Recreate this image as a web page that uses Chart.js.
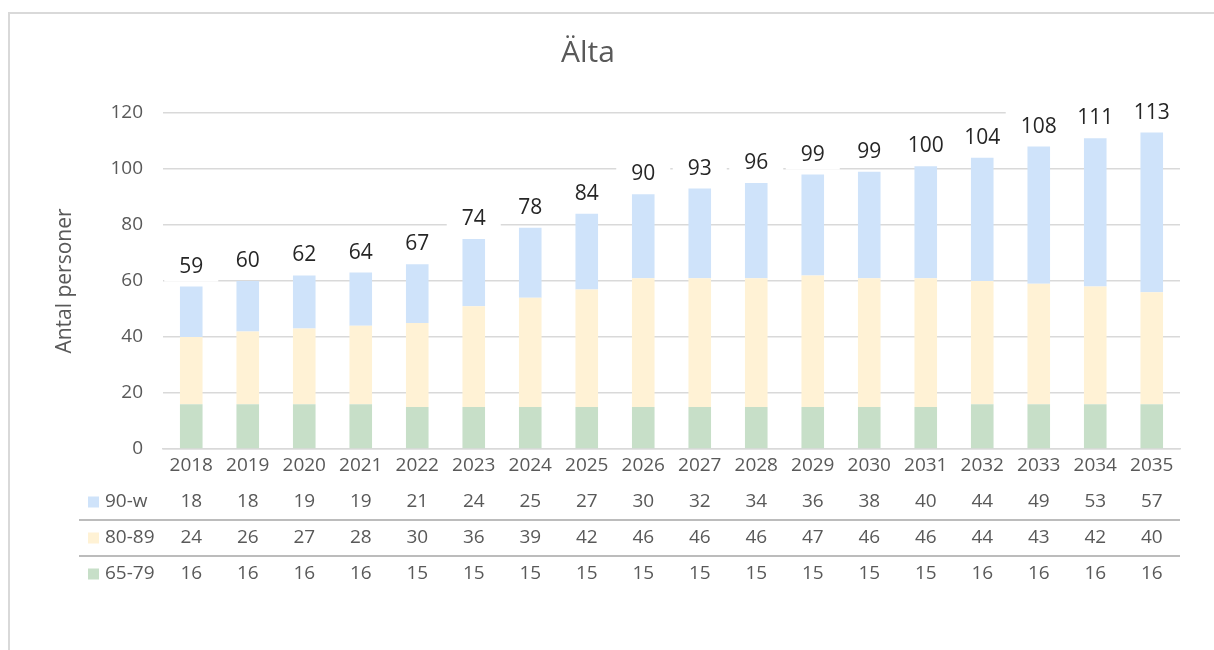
<!DOCTYPE html>
<html>
<head>
<meta charset="utf-8">
<script src="https://cdn.jsdelivr.net/npm/chart.js@4/dist/chart.umd.min.js"></script>
<style>
  html, body { margin: 0; padding: 0; background: #ffffff; }
  canvas { display: block; }
</style>
</head>
<body>
<canvas id="c" width="1214" height="650"></canvas>
<script>
// ---- Data ----
const chartTitle = 'Älta';
const yAxisTitle = 'Antal personer';
const years = ['2018','2019','2020','2021','2022','2023','2024','2025','2026','2027','2028','2029','2030','2031','2032','2033','2034','2035'];
const seriesNames = ['90-w', '80-89', '65-79'];
const s90 = [18,18,19,19,21,24,25,27,30,32,34,36,38,40,44,49,53,57];
const s80 = [24,26,27,28,30,36,39,42,46,46,46,47,46,46,44,43,42,40];
const s65 = [16,16,16,16,15,15,15,15,15,15,15,15,15,15,16,16,16,16];
const totals = [59,60,62,64,67,74,78,84,90,93,96,99,99,100,104,108,111,113];
const yTicks = [0,20,40,60,80,100,120];

// ---- Styles ----
const FONT = "'Open Sans', sans-serif";
const GRAY = '#595959';
const colors = { '90-w': '#cfe3fa', '80-89': '#fff2d5', '65-79': '#c7dfc8' };

Chart.defaults.font.family = FONT;
Chart.defaults.color = GRAY;

const framePlugin = {
  id: 'frame',
  beforeDraw(chart) {
    const ctx = chart.ctx;
    ctx.save();
    ctx.fillStyle = '#ffffff';
    ctx.fillRect(0, 0, chart.width, chart.height);
    ctx.strokeStyle = '#d9d9d9';
    ctx.lineWidth = 2;
    ctx.beginPath();
    ctx.moveTo(9, chart.height);
    ctx.lineTo(9, 13);
    ctx.lineTo(chart.width, 13);
    ctx.stroke();
    // title
    ctx.fillStyle = GRAY;
    ctx.font = "30px " + FONT;
    ctx.textAlign = 'center';
    ctx.textBaseline = 'alphabetic';
    ctx.fillText(chartTitle, 588, 62);
    ctx.restore();
  }
};

const totalsPlugin = {
  id: 'totals',
  afterDatasetsDraw(chart) {
    const ctx = chart.ctx;
    const n = chart.data.datasets.length;
    const topMeta = chart.getDatasetMeta(n - 1);
    ctx.save();
    ctx.font = "21px " + FONT;
    const boxes = [];
    topMeta.data.forEach((bar, i) => {
      const txt = String(totals[i]);
      const w = ctx.measureText(txt).width;
      const top = bar.y;
      boxes.push({ x: bar.x, top, txt, w });
    });
    ctx.fillStyle = '#ffffff';
    boxes.forEach(b => {
      ctx.fillRect(b.x - b.w / 2 - 15, b.top - 38, b.w + 30, 33);
    });
    ctx.fillStyle = '#262626';
    ctx.textAlign = 'center';
    ctx.textBaseline = 'alphabetic';
    boxes.forEach(b => {
      ctx.fillText(b.txt, b.x, b.top - 14);
    });
    ctx.restore();
  }
};

const tablePlugin = {
  id: 'dataTable',
  afterDraw(chart) {
    const ctx = chart.ctx;
    const xs = chart.scales.x;
    const rowY = [502, 538, 574];
    const sepY = [520, 556];
    const rows = [
      { name: seriesNames[0], vals: s90 },
      { name: seriesNames[1], vals: s80 },
      { name: seriesNames[2], vals: s65 }
    ];
    ctx.save();
    ctx.strokeStyle = '#a6a6a6';
    ctx.lineWidth = 1.5;
    sepY.forEach(y => {
      ctx.beginPath();
      ctx.moveTo(79, y);
      ctx.lineTo(chart.chartArea.right, y);
      ctx.stroke();
    });
    ctx.font = "19px " + FONT;
    ctx.textBaseline = 'middle';
    rows.forEach((r, ri) => {
      const y = rowY[ri];
      ctx.fillStyle = colors[r.name];
      ctx.fillRect(88, y - 5.5, 11, 11);
      ctx.fillStyle = GRAY;
      ctx.textAlign = 'left';
      ctx.fillText(r.name, 105, y);
      ctx.textAlign = 'center';
      r.vals.forEach((v, i) => {
        ctx.fillText(String(v), xs.getPixelForValue(i), y);
      });
    });
    ctx.restore();
  }
};

new Chart(document.getElementById('c'), {
  type: 'bar',
  data: {
    labels: years,
    datasets: [
      { label: seriesNames[2], data: s65, backgroundColor: colors['65-79'] },
      { label: seriesNames[1], data: s80, backgroundColor: colors['80-89'] },
      { label: seriesNames[0], data: s90, backgroundColor: colors['90-w'] }
    ]
  },
  options: {
    responsive: false,
    animation: false,
    events: [],
    layout: { padding: { top: 113, right: 34, left: 0, bottom: 0 } },
    datasets: { bar: { categoryPercentage: 1, barPercentage: 0.4, borderWidth: 0 } },
    plugins: {
      legend: { display: false },
      title: { display: false },
      tooltip: { enabled: false }
    },
    scales: {
      x: {
        stacked: true,
        grid: { display: false, drawTicks: false },
        border: { display: true, color: '#d9d9d9', width: 1.5 },
        ticks: { color: GRAY, font: { size: 19 }, padding: 5, maxRotation: 0, autoSkip: false },
        afterFit(scale) { scale.height = 201; }
      },
      y: {
        stacked: true,
        min: 0,
        max: 120,
        afterBuildTicks(scale) { scale.ticks = yTicks.map(v => ({ value: v })); },
        grid: { color: '#d9d9d9', lineWidth: 1.5, drawTicks: false },
        border: { display: false },
        ticks: { color: GRAY, font: { size: 19 }, padding: 20 },
        title: { display: true, text: yAxisTitle, color: GRAY, font: { size: 21 }, padding: { top: 52, bottom: 0 } },
        afterFit(scale) { scale.width = 163; }
      }
    }
  },
  plugins: [framePlugin, totalsPlugin, tablePlugin]
});
</script>
</body>
</html>
